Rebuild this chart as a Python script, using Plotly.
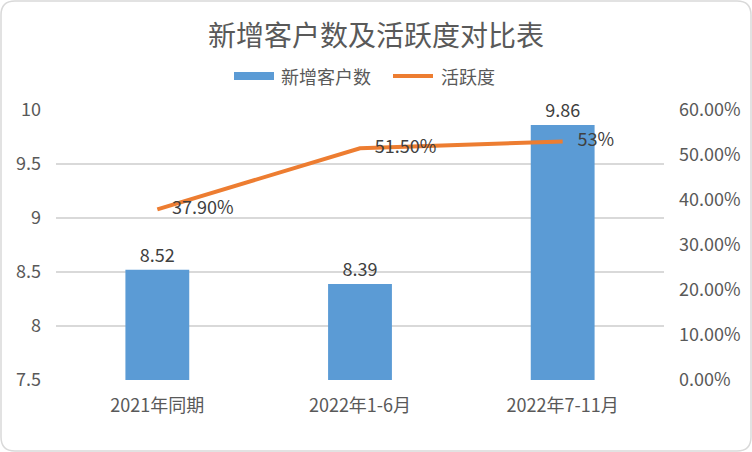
import plotly.graph_objects as go

# 数据
categories = ["2021年同期", "2022年1-6月", "2022年7-11月"]
new_customers = [8.52, 8.39, 9.86]
activity = [0.379, 0.515, 0.53]
activity_labels = ["37.90%", "51.50%", "53%"]
series_names = ["新增客户数", "活跃度"]

W, H = 752, 452
L, R, T, B = 56, 88, 110, 72
FONT = "Noto Sans CJK SC"
GRAY = "#595959"
DARK = "#404040"
BLUE = "#5B9BD5"
ORANGE = "#ED7D31"


def px_to_paper(x, y):
    # pixel coords of the page -> paper coords of the plot area
    pw = W - L - R
    ph = H - T - B
    return (x - L) / pw, (H - B - y) / ph


def rounded_rect(x0, y0, x1, y1, r):
    pts = {
        "a": px_to_paper(x0 + r, y0), "b": px_to_paper(x1 - r, y0),
        "c": px_to_paper(x1, y0), "d": px_to_paper(x1, y0 + r),
        "e": px_to_paper(x1, y1 - r), "f": px_to_paper(x1, y1),
        "g": px_to_paper(x1 - r, y1), "h": px_to_paper(x0 + r, y1),
        "i": px_to_paper(x0, y1), "j": px_to_paper(x0, y1 - r),
        "k": px_to_paper(x0, y0 + r), "l": px_to_paper(x0, y0),
    }
    p = {k: f"{v[0]:.5f},{v[1]:.5f}" for k, v in pts.items()}
    return (f"M {p['a']} L {p['b']} Q {p['c']} {p['d']} L {p['e']} "
            f"Q {p['f']} {p['g']} L {p['h']} Q {p['i']} {p['j']} "
            f"L {p['k']} Q {p['l']} {p['a']} Z")


def px_rect(x0, y0, x1, y1, **kw):
    a = px_to_paper(x0, y0)
    b = px_to_paper(x1, y1)
    return dict(type="rect", xref="paper", yref="paper",
                x0=a[0], y0=a[1], x1=b[0], y1=b[1], **kw)


def px_line(x0, y0, x1, y1, **kw):
    a = px_to_paper(x0, y0)
    b = px_to_paper(x1, y1)
    return dict(type="line", xref="paper", yref="paper",
                x0=a[0], y0=a[1], x1=b[0], y1=b[1], **kw)


fig = go.Figure()

fig.add_trace(go.Bar(
    name=series_names[0],
    x=categories,
    y=new_customers,
    width=0.315,
    marker=dict(color=BLUE, line=dict(width=0)),
    text=[f"{v:.2f}" for v in new_customers],
    textposition="outside",
    textfont=dict(family=FONT, size=18, color=DARK),
    cliponaxis=False,
    showlegend=False,
))

fig.add_trace(go.Scatter(
    name=series_names[1],
    x=categories,
    y=activity,
    yaxis="y2",
    mode="lines+markers+text",
    line=dict(color=ORANGE, width=4),
    marker=dict(size=22, opacity=0),
    text=activity_labels,
    textposition="middle right",
    textfont=dict(family=FONT, size=18, color=DARK),
    cliponaxis=False,
    showlegend=False,
))

# legend drawn by hand so the symbols look like the Excel ones
legend_y = 76
shapes = [
    dict(type="path", xref="paper", yref="paper",
         path=rounded_rect(1, 1, 751, 451, 14),
         line=dict(color="#D9D9D9", width=1.5), layer="below"),
    px_rect(234, 72, 274, 80, fillcolor=BLUE, line=dict(width=0)),
    px_line(393, legend_y, 433, legend_y, line=dict(color=ORANGE, width=4)),
]
annotations = []
for name, x in zip(series_names, [279, 439]):
    ax, ay = px_to_paper(x, legend_y)
    annotations.append(dict(
        text=name, xref="paper", yref="paper", x=ax, y=ay,
        xanchor="left", yanchor="middle", showarrow=False,
        font=dict(family=FONT, size=18, color=GRAY),
    ))

fig.update_layout(
    width=W,
    height=H,
    margin=dict(l=L, r=R, t=T, b=B),
    paper_bgcolor="white",
    plot_bgcolor="white",
    font=dict(family=FONT, size=18, color=GRAY),
    title=dict(
        text="新增客户数及活跃度对比表",
        x=0.5, xanchor="center",
        y=1 - 36 / H, yanchor="middle",
        font=dict(family=FONT, size=28, color=GRAY),
    ),
    showlegend=False,
    xaxis=dict(
        showgrid=False, showline=False, zeroline=False,
        tickfont=dict(size=18, color=GRAY),
        ticklabelstandoff=13,
    ),
    yaxis=dict(
        range=[7.5, 10], dtick=0.5,
        showgrid=True, gridcolor="#D9D9D9", gridwidth=1.5,
        zeroline=False, showline=False,
        tickfont=dict(size=18, color=GRAY),
        ticklabelstandoff=14,
    ),
    yaxis2=dict(
        range=[0, 0.6], dtick=0.1, tickformat=".2%",
        overlaying="y", side="right",
        showgrid=False, zeroline=False, showline=False,
        tickfont=dict(size=18, color=GRAY),
        ticklabelstandoff=14,
    ),
    shapes=shapes,
    annotations=annotations,
)

fig.write_html("out.html", config={"displayModeBar": False},
               post_script="document.body.style.margin='0';")
